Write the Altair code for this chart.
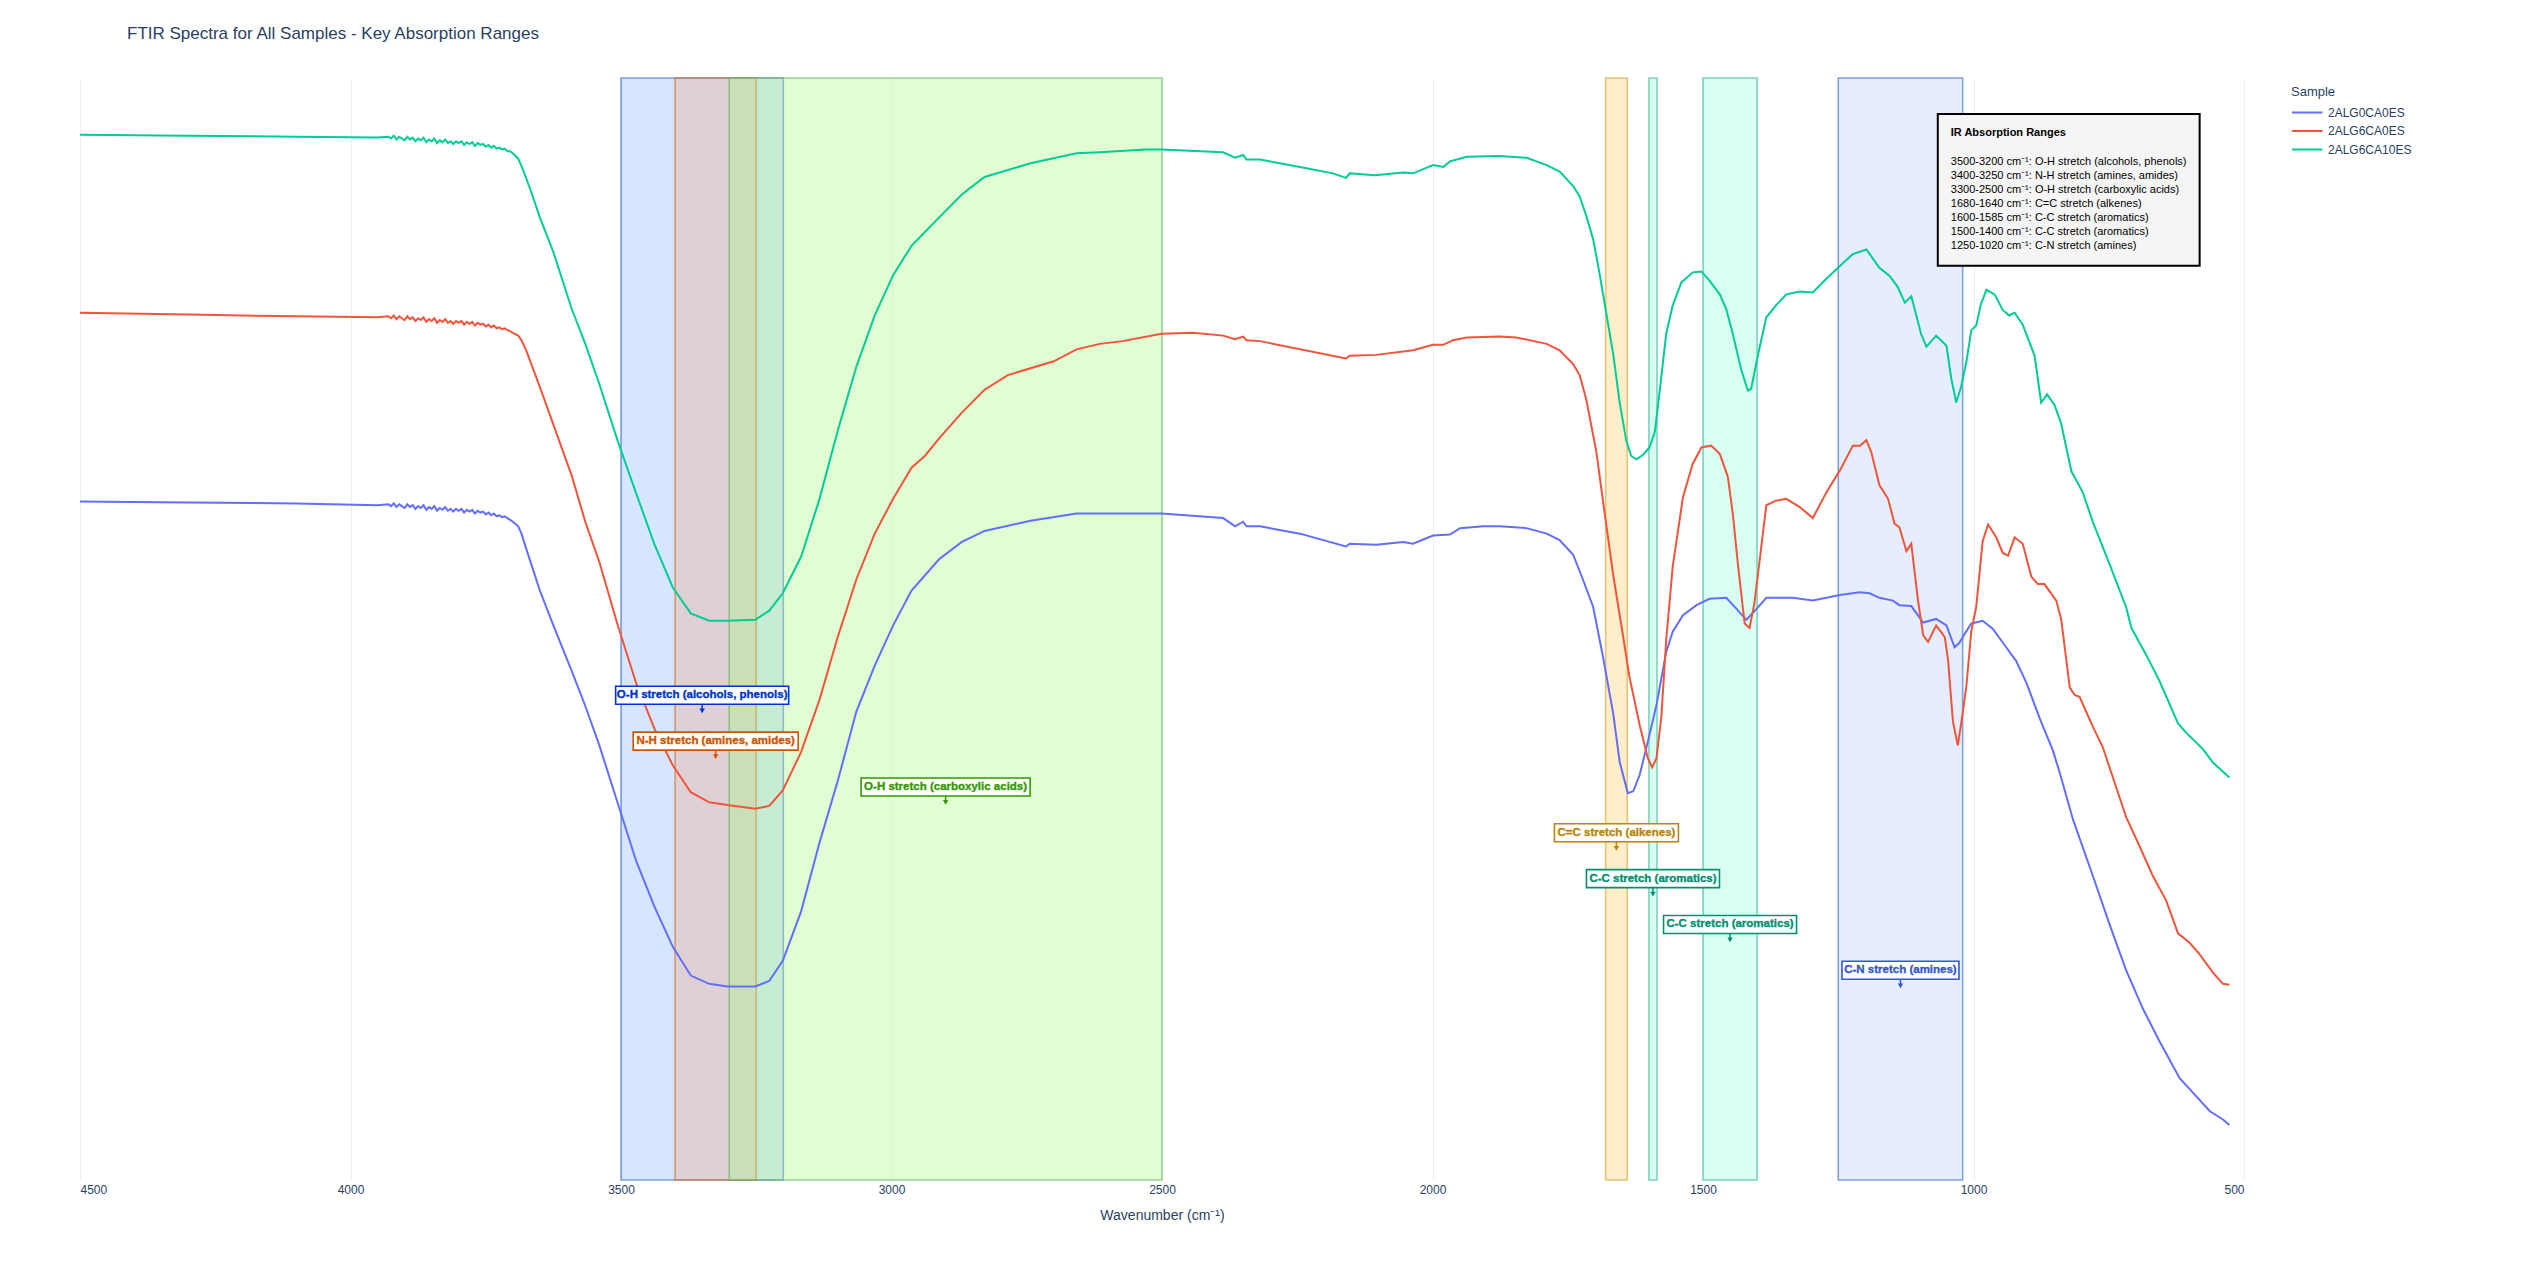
import altair as alt
import pandas as pd

TITLE = "FTIR Spectra for All Samples - Key Absorption Ranges"
SAMPLES = ["2ALG0CA0ES", "2ALG6CA0ES", "2ALG6CA10ES"]
COLORS = ["#636efa", "#EF553B", "#00cc96"]

# noisy plateau region, sampled every 5 cm-1
NOISE_WN = [3930, 3925, 3920, 3915, 3910, 3905, 3900, 3895, 3890, 3885, 3880, 3875, 3870, 3865, 3860, 3855,
            3850, 3845, 3840, 3835, 3830, 3825, 3820, 3815, 3810, 3805, 3800, 3795, 3790, 3785, 3780, 3775,
            3770, 3765, 3760, 3755, 3750, 3745, 3740, 3735, 3730, 3725, 3720, 3715, 3710, 3705, 3700]

# ---- 2ALG0CA0ES (blue) ----
WN_A = [4500, 4300, 4100, 3950] + NOISE_WN + [
        3690, 3684, 3676, 3650,
        3625, 3591, 3566, 3540, 3506, 3472, 3438, 3404, 3371, 3337, 3303, 3252, 3226, 3201, 3167, 3133,
        3099, 3065, 3031, 2997, 2963, 2912, 2870, 2828, 2743, 2658, 2573, 2501, 2387, 2365, 2350, 2344,
        2319, 2245, 2160, 2153, 2104, 2054, 2036, 1999, 1968, 1949, 1906, 1876, 1826, 1789, 1765, 1740,
        1722, 1703, 1685, 1666, 1654, 1639, 1629, 1617, 1602, 1586, 1568, 1556, 1537, 1512, 1488, 1457,
        1438, 1420, 1401, 1383, 1334, 1297, 1247, 1210, 1192, 1174, 1149, 1137, 1115, 1093, 1069, 1050,
        1035, 1026, 1016, 1004, 983, 964, 942, 921, 902, 878, 853, 841, 816, 779, 748, 718, 687, 656,
        619, 594, 563, 539, 527]
T_A = [78.2, 78.1, 78.0, 77.8] + [
       77.9, 77.7, 78.0, 77.6, 77.9, 77.7, 77.5, 77.9, 77.6, 77.8, 77.4, 77.7, 77.5, 77.8, 77.3, 77.6,
       77.4, 77.7, 77.2, 77.5, 77.3, 77.6, 77.2, 77.4, 77.1, 77.4, 77.2, 77.4, 77.0, 77.3, 77.1, 77.3,
       76.9, 77.2, 77.0, 77.1, 76.8, 77.0, 76.7, 76.9, 76.6, 76.7, 76.5, 76.6, 76.4, 76.2, 76.0] + [
       75.5, 74.7, 73.2, 68.5,
       64.7, 59.7, 55.9, 51.6, 45.3, 39.0, 34.0, 29.6, 26.5, 25.6, 25.3, 25.3, 25.9, 28.1, 33.5, 41.0,
       47.8, 55.3, 60.3, 64.7, 68.5, 71.9, 73.8, 75.0, 76.1, 76.9, 76.9, 76.9, 76.4, 75.5, 76.0, 75.5,
       75.5, 74.7, 73.3, 73.6, 73.5, 73.8, 73.6, 74.5, 74.6, 75.3, 75.5, 75.5, 75.3, 74.7, 74.0, 72.4,
       69.7, 66.7, 61.3, 55.1, 49.8, 46.4, 46.6, 48.4, 52.0, 56.0, 61.8, 64.0, 65.8, 66.9, 67.6, 67.7,
       66.5, 65.3, 66.5, 67.7, 67.7, 67.4, 68.0, 68.3, 68.2, 67.7, 67.4, 66.9, 66.8, 65.0, 65.4, 64.7,
       62.3, 62.8, 63.8, 64.9, 65.2, 64.3, 62.5, 60.8, 58.4, 54.6, 51.0, 48.7, 43.5, 37.3, 32.0, 27.1,
       22.9, 19.3, 15.3, 13.7, 11.7, 10.8, 10.2]

# ---- 2ALG6CA0ES (red) ----
WN_B = [4500, 4300, 4100, 3950] + NOISE_WN + [
        3690, 3684, 3676, 3650,
        3625, 3591, 3566, 3540, 3506, 3472, 3438, 3404, 3371, 3337, 3303, 3252, 3226, 3201, 3167, 3133,
        3099, 3065, 3031, 2997, 2963, 2938, 2912, 2870, 2828, 2785, 2700, 2658, 2615, 2573, 2501, 2443,
        2387, 2365, 2350, 2344, 2319, 2160, 2153, 2104, 2036, 1999, 1980, 1962, 1937, 1876, 1845, 1789,
        1765, 1740, 1728, 1716, 1697, 1685, 1666, 1648, 1636, 1617, 1602, 1594, 1586, 1577, 1568, 1556,
        1537, 1519, 1503, 1485, 1469, 1454, 1445, 1435, 1423, 1414, 1405, 1392, 1383, 1365, 1346, 1321,
        1297, 1272, 1247, 1223, 1210, 1198, 1189, 1174, 1158, 1146, 1137, 1124, 1115, 1103, 1093, 1084,
        1069, 1053, 1047, 1038, 1029, 1020, 1013, 1004, 995, 983, 973, 958, 946, 936, 924, 909, 893,
        881, 869, 847, 838, 822, 813, 804, 779, 761, 718, 693, 668, 644, 622, 601, 582, 557, 539, 527]
T_B = [98.8, 98.6, 98.4, 98.3] + [
       98.4, 98.2, 98.5, 98.1, 98.4, 98.2, 98.0, 98.4, 98.1, 98.3, 97.9, 98.2, 98.0, 98.3, 97.8, 98.1,
       97.9, 98.2, 97.7, 98.0, 97.8, 98.1, 97.7, 97.9, 97.6, 97.9, 97.7, 97.9, 97.5, 97.8, 97.6, 97.8,
       97.4, 97.7, 97.5, 97.6, 97.3, 97.5, 97.2, 97.4, 97.1, 97.2, 97.0, 97.1, 96.9, 96.8, 96.6] + [
       96.3, 95.8, 94.8, 90.7,
       86.6, 81.0, 76.0, 71.6, 64.7, 58.4, 53.4, 49.4, 46.5, 45.4, 45.1, 44.7, 45.0, 46.7, 50.9, 56.6,
       63.5, 69.7, 74.7, 78.5, 81.9, 83.2, 85.1, 87.9, 90.4, 92.0, 93.5, 94.8, 95.4, 95.7, 96.5, 96.6,
       96.3, 95.9, 96.2, 95.8, 95.7, 93.8, 94.1, 94.2, 94.7, 95.3, 95.3, 95.8, 96.1, 96.2, 96.1, 95.4,
       94.7, 93.2, 92.0, 89.4, 83.6, 78.3, 70.2, 63.6, 59.1, 53.8, 50.2, 49.2, 50.2, 54.7, 63.1, 71.1,
       78.7, 82.3, 84.1, 84.3, 83.4, 80.9, 76.9, 71.1, 64.9, 64.4, 67.1, 73.4, 77.8, 78.3, 78.5, 77.6,
       76.4, 79.2, 81.6, 84.3, 84.3, 84.9, 83.6, 80.0, 78.5, 75.8, 75.4, 72.8, 73.6, 67.6, 63.6, 62.9,
       64.7, 63.4, 60.9, 54.2, 51.6, 55.1, 58.2, 64.1, 66.7, 73.9, 75.7, 74.3, 72.6, 72.3, 74.3, 73.6, 70.0,
       69.2, 69.2, 67.4, 65.4, 57.9, 57.1, 56.9, 53.6, 51.4, 43.8, 40.6, 37.3, 34.7, 31.1, 30.1, 28.8, 26.8, 25.6, 25.5]

# ---- 2ALG6CA10ES (green) ----
WN_C = [4500, 4300, 4100, 3950] + NOISE_WN + [
        3690, 3684, 3676, 3665,
        3650, 3625, 3591, 3566, 3540, 3506, 3472, 3438, 3404, 3371, 3337, 3303, 3252, 3226, 3201, 3167,
        3133, 3099, 3065, 3031, 2997, 2963, 2912, 2870, 2828, 2743, 2658, 2615, 2530, 2501, 2387, 2365,
        2350, 2344, 2319, 2245, 2184, 2160, 2153, 2107, 2054, 2036, 1999, 1980, 1968, 1937, 1876, 1826,
        1789, 1765, 1740, 1728, 1716, 1703, 1691, 1679, 1666, 1654, 1642, 1633, 1623, 1611, 1599, 1589,
        1580, 1568, 1556, 1540, 1519, 1503, 1488, 1469, 1457, 1445, 1429, 1417, 1411, 1398, 1383, 1365,
        1346, 1321, 1297, 1272, 1247, 1223, 1198, 1174, 1155, 1140, 1127, 1115, 1097, 1087, 1069, 1050,
        1041, 1032, 1023, 1013, 1004, 995, 986, 976, 961, 946, 934, 924, 909, 887, 875, 864, 850, 838,
        819, 798, 779, 748, 718, 708, 681, 656, 622, 607, 576, 557, 527]
T_C = [118.2, 118.1, 118.0, 117.9] + [
       118.0, 117.8, 118.1, 117.7, 118.0, 117.8, 117.6, 118.0, 117.7, 117.9, 117.5, 117.8, 117.6, 117.9, 117.4, 117.7,
       117.5, 117.8, 117.3, 117.6, 117.4, 117.7, 117.3, 117.5, 117.2, 117.5, 117.3, 117.5, 117.1, 117.4, 117.2, 117.4,
       117.0, 117.3, 117.1, 117.2, 116.9, 117.1, 116.8, 117.0, 116.7, 116.8, 116.6, 116.7, 116.4, 116.4, 116.2] + [
       115.6, 114.8, 113.6, 111.8,
       109.2, 105.4, 99.2, 95.4, 91.0, 84.8, 79.1, 73.5, 68.8, 66.0, 65.2, 65.2, 65.3, 66.3, 68.2, 72.2,
       78.5, 86.0, 92.9, 98.5, 102.9, 106.1, 109.2, 111.7, 113.6, 115.1, 116.2, 116.3, 116.6, 116.6, 116.3, 115.7,
       116.0, 115.5, 115.5, 114.7, 114.0, 113.5, 114.0, 113.8, 114.1, 114.0, 114.9, 114.7, 115.3, 115.8, 115.9, 115.7,
       114.9, 114.2, 112.6, 111.5, 109.4, 106.8, 103.0, 98.8, 94.3, 89.0, 84.9, 83.2, 82.8, 83.3, 84.1, 85.8,
       90.3, 96.5, 99.6, 102.1, 103.2, 103.3, 102.3, 100.8, 99.2, 96.5, 92.5, 90.3, 90.5, 94.3, 98.3, 99.6,
       100.8, 101.1, 101.0, 102.5, 103.9, 105.2, 105.7, 103.7, 102.8, 101.6, 99.9, 100.6, 96.5, 95.1, 96.3, 95.2,
       91.6, 89.0, 90.7, 93.5, 96.9, 97.4, 99.8, 101.3, 100.8, 99.1, 98.5, 98.8, 97.5, 94.1, 89.0, 89.9, 88.7, 86.7,
       81.5, 79.2, 75.9, 71.3, 66.7, 64.4, 61.5, 58.6, 54.0, 53.0, 51.2, 49.7, 48.1]

# ---- absorption ranges ----
RANGE_HI = [3500, 3400, 3300, 1680, 1600, 1500, 1250]
RANGE_LO = [3200, 3250, 2500, 1640, 1585, 1400, 1020]
RANGE_LABEL = ["O-H stretch (alcohols, phenols)", "N-H stretch (amines, amides)",
               "O-H stretch (carboxylic acids)", "C=C stretch (alkenes)",
               "C-C stretch (aromatics)", "C-C stretch (aromatics)", "C-N stretch (amines)"]
ANN_Y = [55, 50, 45, 40, 35, 30, 25]

X_TICKS = [4500, 4000, 3500, 3000, 2500, 2000, 1500, 1000, 500]
Y_GRID = [20, 40, 60, 80, 100, 120]
X_MIN, X_MAX = 500, 4500
Y_MIN, Y_MAX = 4.2, 124.4

# styles
BAND_FILL = ["#0064ff", "#f5a078", "#aaf882", "#ffc850", "#7fffd4", "#7fffd4", "#6496f0"]
BAND_FILL_OP = [0.16, 0.3, 0.35, 0.3, 0.3, 0.3, 0.16]
BAND_STROKE = ["#3366cc", "#d2691e", "#5cb85c", "#d4a030", "#2fb89a", "#2fb89a", "#3366cc"]
TXT_COLOR = ["#0033cc", "#cc5500", "#339900", "#b8860b", "#008f6f", "#008f6f", "#3358cc"]
BOX_W = [173, 165, 169, 124, 133, 133, 117]
FONT = "Liberation Sans, Arial, sans-serif"
INK = "#2a3f5f"

W, H = 2164, 1102

rows = []
for name, wn, tv in [(SAMPLES[0], WN_A, T_A), (SAMPLES[1], WN_B, T_B), (SAMPLES[2], WN_C, T_C)]:
    for a, b in zip(wn, tv):
        rows.append({"Sample": name, "wn": a, "t": b})
spectra = pd.DataFrame(rows)

x_scale = alt.Scale(domain=[X_MIN, X_MAX], reverse=True, nice=False, zero=False)
y_scale = alt.Scale(domain=[Y_MIN, Y_MAX], nice=False, zero=False)

layers = []
# bands
for i in range(len(RANGE_HI)):
    layers.append(
        alt.Chart(pd.DataFrame({"hi": [RANGE_HI[i]], "lo": [RANGE_LO[i]]})).mark_rect(
            fill=BAND_FILL[i], fillOpacity=BAND_FILL_OP[i], stroke=BAND_STROKE[i],
            strokeOpacity=0.6, strokeWidth=1.6
        ).encode(
            x=alt.X("hi:Q", scale=x_scale),
            x2="lo:Q",
            y=alt.datum(Y_MIN),
            y2=alt.datum(Y_MAX),
        )
    )

lines = alt.Chart(spectra).mark_line(strokeWidth=2).encode(
    x=alt.X("wn:Q", scale=x_scale,
            axis=alt.Axis(values=X_TICKS, title="Wavenumber (cm⁻¹)", format="d")),
    y=alt.Y("t:Q", scale=y_scale,
            axis=alt.Axis(values=Y_GRID, labels=False, ticks=False, domain=False, title=None)),
    color=alt.Color("Sample:N", scale=alt.Scale(domain=SAMPLES, range=COLORS),
                    legend=alt.Legend(title="Sample")),
)
layers.append(lines)

# annotations
for i in range(len(RANGE_HI)):
    cx = (RANGE_HI[i] + RANGE_LO[i]) / 2
    cy = ANN_Y[i]
    w = BOX_W[i]
    col = TXT_COLOR[i]
    layers.append(alt.Chart().mark_rect(
        fill="white", stroke=col, strokeWidth=1.6,
        xOffset=-w / 2, x2Offset=w / 2, yOffset=-28, y2Offset=-10
    ).encode(x=alt.datum(cx), x2=alt.datum(cx), y=alt.datum(cy), y2=alt.datum(cy)))
    layers.append(alt.Chart().mark_text(
        text=RANGE_LABEL[i], color=col, font=FONT, fontSize=11.5, fontWeight="bold",
        stroke=col, strokeWidth=0.35,
        align="center", baseline="middle", yOffset=-19
    ).encode(x=alt.datum(cx), y=alt.datum(cy)))
    layers.append(alt.Chart().mark_rule(
        color=col, strokeWidth=1.5, yOffset=-10, y2Offset=-5
    ).encode(x=alt.datum(cx), y=alt.datum(cy), y2=alt.datum(cy)))
    layers.append(alt.Chart().mark_point(
        shape="triangle-down", filled=True, size=30, color=col, opacity=1, yOffset=-3.5
    ).encode(x=alt.datum(cx), y=alt.datum(cy)))

# IR ranges info box
BOX_X = [1066, 582]
BOX_Y = [120.48, 103.93]
layers.append(alt.Chart().mark_rect(
    fill="#f5f5f5", stroke="black", strokeWidth=2
).encode(x=alt.datum(BOX_X[0]), x2=alt.datum(BOX_X[1]), y=alt.datum(BOX_Y[0]), y2=alt.datum(BOX_Y[1])))
layers.append(alt.Chart().mark_text(
    text="IR Absorption Ranges", font=FONT, fontSize=11, fontWeight="bold", color="black",
    align="left", baseline="middle"
).encode(x=alt.datum(1042), y=alt.datum(118.37)))
desc = [f"{RANGE_HI[i]}-{RANGE_LO[i]} cm⁻¹: {RANGE_LABEL[i]}" for i in range(len(RANGE_HI))]
layers.append(alt.Chart().mark_text(
    text=desc, font=FONT, fontSize=11, color="black", lineHeight=14,
    align="left", baseline="middle"
).encode(x=alt.datum(1042), y=alt.datum(115.21)))

chart = alt.layer(*layers).properties(
    width=W, height=H,
    title=alt.TitleParams(TITLE, anchor="start", fontSize=17, color=INK, font=FONT,
                          fontWeight="normal", dx=51, offset=21, baseline="alphabetic"),
    autosize=alt.AutoSizeParams(type="none"),
    padding={"left": 80, "top": 78, "right": 300, "bottom": 81},
    background="white",
).configure_view(stroke=None).configure_axis(
    gridColor="#ebf0f8", gridWidth=1, labelFont=FONT, titleFont=FONT,
    labelColor=INK, titleColor=INK, labelFontSize=12, titleFontSize=14,
    titleFontWeight="normal", ticks=False, domain=False, labelPadding=4, titlePadding=13,
    zindex=1
).configure_legend(
    orient="none", legendX=2211, legendY=8, titleFont=FONT, labelFont=FONT,
    titleFontSize=13, titleFontWeight="normal", titleColor=INK,
    labelFontSize=12, labelColor=INK, symbolType="M-1,0H2.2", symbolSize=361,
    symbolStrokeWidth=2, rowPadding=1.5, titlePadding=3, labelOffset=16, padding=0
)

chart.save("out.html", embed_options={"renderer": "svg", "actions": False})
